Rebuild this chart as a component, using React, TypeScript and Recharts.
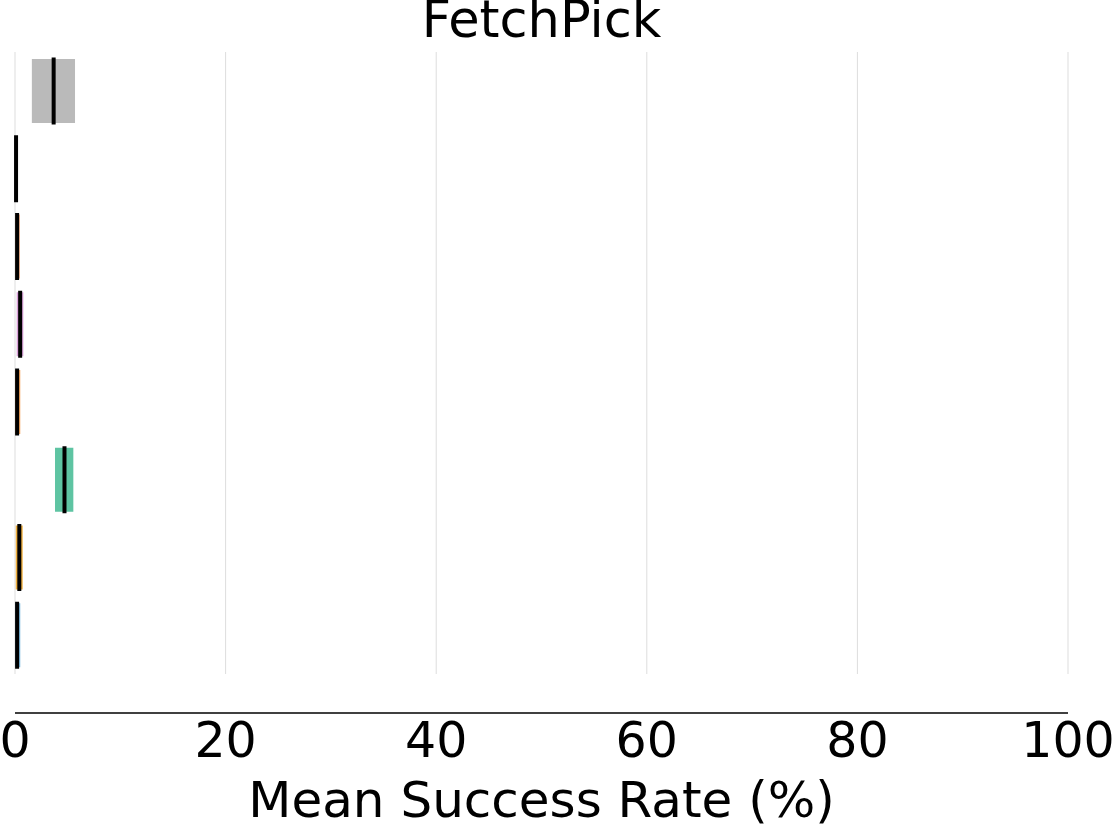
import { BarChart, Bar, XAxis, YAxis, CartesianGrid } from "recharts";

// One row per method, top to bottom
const methods = ["M1", "M2", "M3", "M4", "M5", "M6", "M7", "M8"];
const lows = [1.6, 0, 0, 0.16, 0, 3.8, 0.07, 0];
const highs = [5.7, 0.15, 0.47, 0.79, 0.5, 5.54, 0.73, 0.5];
const medians = [3.67, 0.1, 0.2, 0.49, 0.2, 4.7, 0.41, 0.2];
const xTicks = [0, 20, 40, 60, 80, 100];

const COLORS = [
  "#bababa", // gray
  "#6f93c8", // blue
  "#f2b48f", // peach
  "#d9a2d9", // pink
  "#f2a35a", // orange
  "#5ec4a2", // teal
  "#f0b040", // gold
  "#7ab8dc", // light blue
];

const W = 1115;
const H = 825;
const PLOT_TOP = 52;
const PLOT_LEFT = 15;
const PLOT_RIGHT = 1068;
const GRID_BOTTOM = 674;
const AXIS_Y = 713;
const X_AXIS_H = 60;
const FONT = "'DejaVu Sans', sans-serif";

const rows = methods.map((m, i) => ({
  method: m,
  low: lows[i],
  high: highs[i],
  median: medians[i],
  color: COLORS[i],
}));

interface BoxShapeProps {
  x?: number;
  y?: number;
  width?: number;
  height?: number;
  payload?: (typeof rows)[number];
}

// range box plus black median line, placed with the bar's own scale
function BoxShape({ x = 0, y = 0, width = 0, height = 0, payload }: BoxShapeProps) {
  if (!payload) return null;
  const span = payload.high - payload.low;
  const medX = span > 0 ? x + (width * (payload.median - payload.low)) / span : x;
  return (
    <g>
      <rect x={x} y={y} width={Math.max(width, 0)} height={height} fill={payload.color} />
      <line
        x1={medX}
        x2={medX}
        y1={y - 1.5}
        y2={y + height + 1.5}
        stroke="#000"
        strokeWidth={4}
      />
    </g>
  );
}

const textStyle = {
  position: "absolute" as const,
  left: PLOT_LEFT,
  width: PLOT_RIGHT - PLOT_LEFT,
  textAlign: "center" as const,
  fontFamily: FONT,
  lineHeight: "40px",
  height: 40,
  color: "#000",
  whiteSpace: "nowrap" as const,
};

export default function App() {
  return (
    <div style={{ position: "absolute", left: 0, top: 0, width: W, height: H, background: "#fff", overflow: "hidden" }}>
      <BarChart
        layout="vertical"
        width={W}
        height={H}
        data={rows}
        barSize={64}
        margin={{ top: PLOT_TOP, right: W - PLOT_RIGHT, left: PLOT_LEFT, bottom: H - AXIS_Y - X_AXIS_H }}
      >
        <CartesianGrid
          horizontal={false}
          stroke="#dddddd"
          strokeWidth={1}
          y={PLOT_TOP}
          height={GRID_BOTTOM - PLOT_TOP}
        />
        <XAxis
          type="number"
          domain={[0, 100]}
          ticks={xTicks}
          interval={0}
          tickLine={false}
          axisLine={{ stroke: "#000", strokeWidth: 1.5 }}
          tick={{ fontSize: 49, fill: "#000", fontFamily: FONT }}
          tickMargin={3}
          height={X_AXIS_H}
        />
        <YAxis
          type="category"
          dataKey="method"
          hide
          padding={{ top: 0, bottom: AXIS_Y - GRID_BOTTOM }}
        />
        <Bar
          dataKey={(d: (typeof rows)[number]) => [d.low, d.high]}
          shape={<BoxShape />}
          isAnimationActive={false}
        />
      </BarChart>
      <div style={{ ...textStyle, top: 0, fontSize: 51 }}>FetchPick</div>
      <div style={{ ...textStyle, top: 780, fontSize: 50 }}>Mean Success Rate (%)</div>
    </div>
  );
}
